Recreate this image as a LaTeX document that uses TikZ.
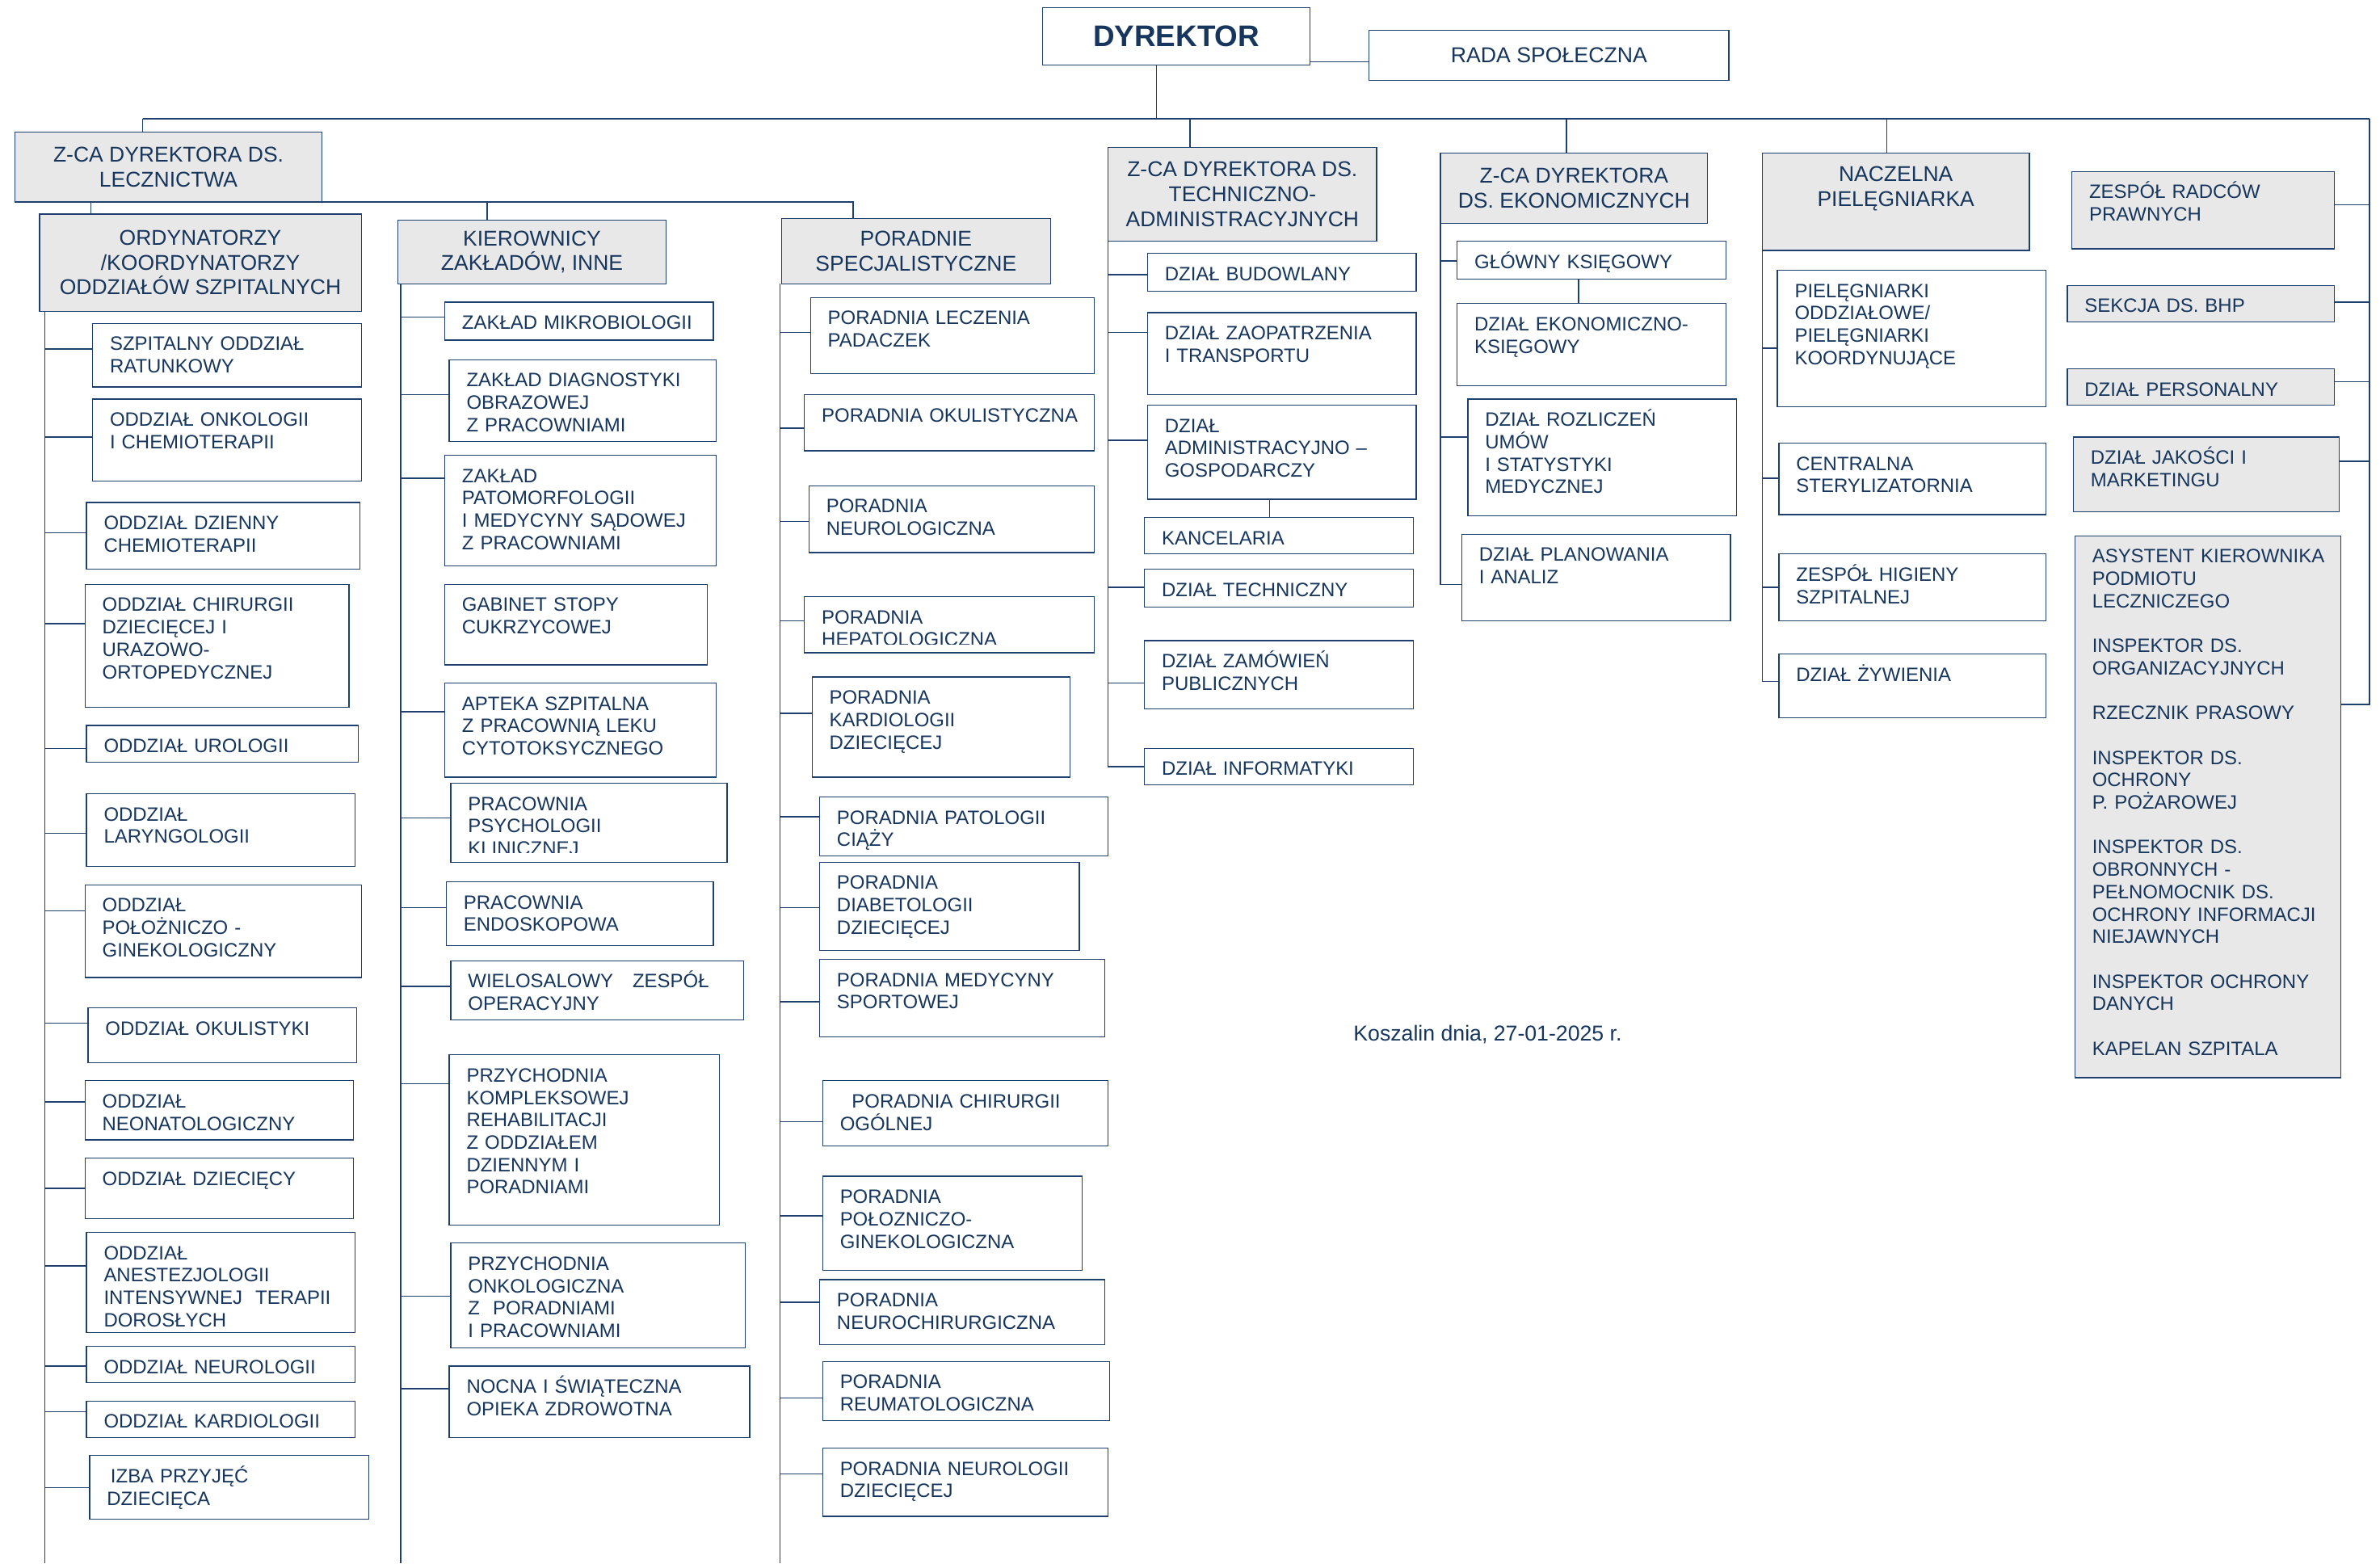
\documentclass[tikz,border=0pt]{standalone}
\usepackage{fontspec}
\setmainfont{Liberation Sans}

\definecolor{ink}{RGB}{23,54,93}
\definecolor{wire}{RGB}{31,63,110}
\definecolor{boxgray}{RGB}{232,232,232}

\tikzset{
  unit/.style={draw=wire, line width=0.7pt, fill=white, anchor=north west, inner sep=0pt, outer sep=0pt},
  unittext/.style={anchor=base west, inner sep=0pt, align=left, text width=#1, text=ink, font=\fontsize{12.75}{14.75}\selectfont},
  chief/.style={unit, fill=boxgray, align=center, text=ink, font=\fontsize{14.1}{16.4}\selectfont},
  link/.style={draw=wire, line width=0.8pt},
  bus/.style={draw=wire, line width=1.1pt},
}

% box with left-set text: [fill]{name}{x1}{y1}{x2}{y2}{text}
\newcommand{\deptbox}[7][white]{%
  \pgfmathsetmacro{\ubw}{#5-#3}\pgfmathsetmacro{\ubh}{#6-#4}%
  \node[unit, fill=#1, minimum width=\ubw pt, minimum height=\ubh pt] (#2) at (#3,#4) {};
  \node[unittext=\ubw pt] (#2-t) at ([shift={(11.2pt,-17.9pt)}]#2.north west) {#7};
}
% same, text cut off at y = #6
\newcommand{\cutbox}[7]{%
  \pgfmathsetmacro{\ubw}{#4-#2}\pgfmathsetmacro{\ubh}{#5-#3}%
  \node[unit, minimum width=\ubw pt, minimum height=\ubh pt] (#1) at (#2,#3) {};
  \begin{scope}
    \clip (#2,#3) rectangle (#4,#6);
    \node[unittext=\ubw pt] (#1-t) at ([shift={(11.2pt,-17.9pt)}]#1.north west) {#7};
  \end{scope}
}
% grey head box with centred text
\newcommand{\headbox}[6]{%
  \pgfmathsetmacro{\ubw}{#4-#2}\pgfmathsetmacro{\ubh}{#5-#3}%
  \node[chief, minimum width=\ubw pt, minimum height=\ubh pt] (#1) at (#2,#3) {#6};
}
% spine -> box west at height y
\newcommand{\hookin}[3]{%
  \coordinate (#2-in) at (#2.west |- 0,#3);
  \draw[link] (#1 |- #2-in) -- (#2-in);
}
% box east -> spine at height y
\newcommand{\hookout}[3]{%
  \coordinate (#2-in) at (#2.east |- 0,#3);
  \draw[link] (#2-in) -- (#1 |- #2-in);
}

\begin{document}
\begin{tikzpicture}[x=1pt, y=-1pt]
  \useasboundingbox (0,0) rectangle (1568,1030);

  % top
  \node[unit, minimum width=176pt, minimum height=38pt, text=ink, font=\bfseries\fontsize{19.6}{22}\selectfont] (dyr) at (687,5) {DYREKTOR};
  \node[unit, minimum width=237pt, minimum height=33pt, text=ink, font=\fontsize{14.2}{16}\selectfont] (rada) at (902,20) {RADA SPOŁECZNA};
  \coordinate (rada-in) at (rada.west |- 0,40.6);
  \draw[link] (dyr.east |- rada-in) -- (rada-in);                 % dyrektor - rada

  \coordinate (bus-w)   at (94,78);
  \coordinate (bus-e)   at (1561,78);
  \coordinate (dyr-ft)  at (762,78);
  \draw[bus]  (bus-w) -- (bus-e);                                   % main bus
  \draw[link] (dyr-ft |- dyr.south) -- (dyr-ft);                    % dyrektor stem

  % deputies
  \headbox{lecz}{10}{87}{212}{133}{Z-CA DYREKTORA DS.\\LECZNICTWA}
  \headbox{tech}{730}{97}{907}{159}{Z-CA DYREKTORA DS.\\TECHNICZNO-\\ADMINISTRACYJNYCH}
  \headbox{ekon}{949}{101}{1125}{147}{Z-CA DYREKTORA\\DS. EKONOMICZNYCH}
  \node[unit, fill=boxgray, minimum width=176pt, minimum height=64pt] (nacz) at (1161,101) {};
  \node[anchor=north, inner sep=0pt, align=center, text=ink, font=\fontsize{14.1}{16.4}\selectfont] (nacz-t) at ([yshift=-8.4pt]nacz.north) {NACZELNA\\PIELĘGNIARKA};

  \coordinate (tech-up) at (784,78);
  \coordinate (ekon-up) at (1032,78);
  \coordinate (nacz-up) at (1243,78);
  \draw[link] (bus-w) -- (bus-w |- lecz.north);
  \draw[link] (tech-up) -- (tech-up |- tech.north);
  \draw[link] (ekon-up) -- (ekon-up |- ekon.north);
  \draw[link] (nacz-up) -- (nacz-up |- nacz.north);

  % medical heads
  \headbox{ord}{26}{141}{238}{205}{ORDYNATORZY\\/KOORDYNATORZY\\ODDZIAŁÓW SZPITALNYCH}
  \headbox{kier}{262}{145}{439}{187}{KIEROWNICY\\ZAKŁADÓW, INNE}
  \headbox{pors}{515}{144}{692}{187}{PORADNIE\\SPECJALISTYCZNE}
  \coordinate (ord-up)  at (60,133);
  \coordinate (kier-up) at (321,133);
  \coordinate (pors-up) at (562,133);
  \draw[link] (lecz.south east) -- (pors-up) -- (pors-up |- pors.north);
  \draw[link] (ord-up) -- (ord-up |- ord.north);
  \draw[link] (kier-up) -- (kier-up |- kier.north);

  % spines
  \coordinate (ord-sp)  at (29.5,205);  \coordinate (ord-ft)  at (29.5,1030);
  \coordinate (kier-sp) at (264,187);   \coordinate (kier-ft) at (264,1030);
  \coordinate (pors-sp) at (514,187);   \coordinate (pors-ft) at (514,1030);
  \draw[link] (ord-sp) -- (ord-ft);
  \draw[link] (kier-sp) -- (kier-ft);
  \draw[link] (pors-sp) -- (pors-ft);

  % ordynatorzy
  \deptbox{o1}{61}{213}{238}{255}{SZPITALNY ODDZIAŁ\\RATUNKOWY}
  \deptbox{o2}{61}{263}{238}{317}{ODDZIAŁ ONKOLOGII\\I CHEMIOTERAPII}
  \deptbox{o3}{57}{331}{237}{375}{ODDZIAŁ DZIENNY\\CHEMIOTERAPII}
  \deptbox{o4}{56}{385}{230}{466}{ODDZIAŁ CHIRURGII\\DZIECIĘCEJ I\\URAZOWO-\\ORTOPEDYCZNEJ}
  \deptbox{o5}{57}{478}{236}{502}{ODDZIAŁ UROLOGII}
  \deptbox{o6}{57}{523}{234}{571}{ODDZIAŁ\\LARYNGOLOGII}
  \deptbox{o7}{56}{583}{238}{644}{ODDZIAŁ\\POŁOŻNICZO -\\GINEKOLOGICZNY}
  \deptbox{o8}{58}{664}{235}{700}{ODDZIAŁ OKULISTYKI}
  \deptbox{o9}{56}{712}{233}{751}{ODDZIAŁ\\NEONATOLOGICZNY}
  \deptbox{o10}{56}{763}{233}{803}{ODDZIAŁ DZIECIĘCY}
  \deptbox{o11}{57}{812}{234}{878}{ODDZIAŁ\\ANESTEZJOLOGII\\INTENSYWNEJ\ \ TERAPII\\DOROSŁYCH}
  \deptbox{o12}{57}{887}{234}{911}{ODDZIAŁ NEUROLOGII}
  \deptbox{o13}{57}{923}{234}{947}{ODDZIAŁ KARDIOLOGII}
  \deptbox{o14}{59}{959}{243}{1001}{\hspace*{2.5pt}IZBA PRZYJĘĆ\\DZIECIĘCA}
  \hookin{ord-sp}{o1}{230}   \hookin{ord-sp}{o2}{288}   \hookin{ord-sp}{o3}{351}
  \hookin{ord-sp}{o4}{411}   \hookin{ord-sp}{o5}{493}   \hookin{ord-sp}{o6}{549}
  \hookin{ord-sp}{o7}{600}   \hookin{ord-sp}{o8}{674}   \hookin{ord-sp}{o9}{726}
  \hookin{ord-sp}{o10}{783}  \hookin{ord-sp}{o11}{834}  \hookin{ord-sp}{o12}{900}
  \hookin{ord-sp}{o13}{930}  \hookin{ord-sp}{o14}{980}

  % kierownicy
  \deptbox{k1}{293}{199}{470}{224}{ZAKŁAD MIKROBIOLOGII}
  \deptbox{k2}{296}{237}{472}{291}{ZAKŁAD DIAGNOSTYKI\\OBRAZOWEJ\\Z PRACOWNIAMI}
  \deptbox{k3}{293}{300}{472}{373}{ZAKŁAD\\PATOMORFOLOGII\\I MEDYCYNY SĄDOWEJ\\Z PRACOWNIAMI}
  \deptbox{k4}{293}{385}{466}{438}{GABINET STOPY\\CUKRZYCOWEJ}
  \deptbox{k5}{293}{450}{472}{512}{APTEKA SZPITALNA\\Z PRACOWNIĄ LEKU\\CYTOTOKSYCZNEGO}
  \cutbox{k6}{297}{516}{479}{568}{562}{PRACOWNIA\\PSYCHOLOGII\\KLINICZNEJ}
  \deptbox{k7}{294}{581}{470}{623}{PRACOWNIA\\ENDOSKOPOWA}
  \deptbox{k8}{297}{633}{490}{672}{WIELOSALOWY\ \ \ ZESPÓŁ\\OPERACYJNY}
  \deptbox{k9}{296}{695}{474}{807}{PRZYCHODNIA\\KOMPLEKSOWEJ\\REHABILITACJI\\Z ODDZIAŁEM\\DZIENNYM I\\PORADNIAMI}
  \deptbox{k10}{297}{819}{491}{888}{PRZYCHODNIA\\ONKOLOGICZNA\\Z\ \ PORADNIAMI\\I PRACOWNIAMI}
  \deptbox{k11}{296}{900}{494}{947}{NOCNA I ŚWIĄTECZNA\\OPIEKA ZDROWOTNA}
  \hookin{kier-sp}{k1}{209}  \hookin{kier-sp}{k2}{260}  \hookin{kier-sp}{k3}{315}
  \hookin{kier-sp}{k5}{469}  \hookin{kier-sp}{k6}{539}  \hookin{kier-sp}{k7}{598}
  \hookin{kier-sp}{k8}{650}  \hookin{kier-sp}{k9}{714}  \hookin{kier-sp}{k10}{854}
  \hookin{kier-sp}{k11}{915}

  % poradnie
  \deptbox{p1}{534}{196}{721}{246}{PORADNIA LECZENIA\\PADACZEK}
  \deptbox{p2}{530}{260}{721}{297}{PORADNIA OKULISTYCZNA}
  \deptbox{p3}{533}{320}{721}{364}{PORADNIA\\NEUROLOGICZNA}
  \cutbox{p4}{530}{393}{721}{430}{424.5}{PORADNIA\\HEPATOLOGICZNA}
  \deptbox{p5}{535}{446}{705}{512}{PORADNIA\\KARDIOLOGII\\DZIECIĘCEJ}
  \deptbox{p6}{540}{525}{730}{564}{PORADNIA PATOLOGII\\CIĄŻY}
  \deptbox{p7}{540}{568}{711}{626}{PORADNIA\\DIABETOLOGII\\DZIECIĘCEJ}
  \deptbox{p8}{540}{632}{728}{683}{PORADNIA MEDYCYNY\\SPORTOWEJ}
  \deptbox{p9}{542}{712}{730}{755}{\hspace*{7.8pt}PORADNIA CHIRURGII\\OGÓLNEJ}
  \deptbox{p10}{542}{775}{713}{837}{PORADNIA\\POŁOZNICZO-\\GINEKOLOGICZNA}
  \deptbox{p11}{540}{843}{728}{886}{PORADNIA\\NEUROCHIRURGICZNA}
  \deptbox{p12}{542}{897}{731}{936}{PORADNIA\\REUMATOLOGICZNA}
  \deptbox{p13}{542}{954}{730}{999}{PORADNIA NEUROLOGII\\DZIECIĘCEJ}
  \hookin{pors-sp}{p1}{219}  \hookin{pors-sp}{p2}{282}  \hookin{pors-sp}{p3}{343.5}
  \hookin{pors-sp}{p4}{409}  \hookin{pors-sp}{p5}{470}  \hookin{pors-sp}{p6}{538}
  \hookin{pors-sp}{p7}{598}  \hookin{pors-sp}{p8}{660}  \hookin{pors-sp}{p9}{739}
  \hookin{pors-sp}{p10}{801} \hookin{pors-sp}{p11}{858} \hookin{pors-sp}{p12}{921}
  \hookin{pors-sp}{p13}{971}

  % techniczno-administracyjne
  \deptbox{t1}{756}{167}{933}{192}{DZIAŁ BUDOWLANY}
  \deptbox{t2}{756}{206}{933}{260}{DZIAŁ ZAOPATRZENIA\\I TRANSPORTU}
  \deptbox{t3}{756}{267}{933}{329}{DZIAŁ\\ADMINISTRACYJNO –\\GOSPODARCZY}
  \deptbox{t4}{754}{341}{931}{365}{KANCELARIA}
  \deptbox{t5}{754}{375}{931}{400}{DZIAŁ TECHNICZNY}
  \deptbox{t6}{754}{422}{931}{467}{DZIAŁ ZAMÓWIEŃ\\PUBLICZNYCH}
  \deptbox{t7}{754}{493}{931}{517}{DZIAŁ INFORMATYKI}
  \coordinate (tech-sp) at (730,159);
  \coordinate (kanc-up) at (836.5,329);
  \draw[link] (tech-sp) |- (t7.west);                               % tech spine
  \hookin{tech-sp}{t1}{181}  \hookin{tech-sp}{t2}{219}  \hookin{tech-sp}{t3}{290}
  \hookin{tech-sp}{t5}{387}  \hookin{tech-sp}{t6}{450}
  \draw[link] (kanc-up) -- (kanc-up |- t4.north);                   % kancelaria

  % ekonomiczne
  \deptbox{e1}{960}{159}{1137}{184}{GŁÓWNY KSIĘGOWY}
  \deptbox{e2}{960}{200}{1137}{254}{DZIAŁ EKONOMICZNO-\\KSIĘGOWY}
  \deptbox{e3}{967}{263}{1144}{340}{DZIAŁ ROZLICZEŃ\\UMÓW\\I STATYSTYKI\\MEDYCZNEJ}
  \deptbox{e4}{963}{352}{1140}{409}{DZIAŁ PLANOWANIA\\I ANALIZ}
  \coordinate (ekon-sp) at (949,147);
  \coordinate (ksieg-up) at (1040,184);
  \coordinate (e4-in) at (e4.west |- 0,385);
  \draw[link] (ekon-sp) |- (e4-in);                                 % ekon spine
  \hookin{ekon-sp}{e1}{172}  \hookin{ekon-sp}{e3}{288}
  \draw[link] (ksieg-up) -- (ksieg-up |- e2.north);                 % ksiegowy

  % pielegniarki
  \deptbox{n1}{1171}{178}{1348}{268}{PIELĘGNIARKI\\ODDZIAŁOWE/\\PIELĘGNIARKI\\KOORDYNUJĄCE}
  \deptbox{n2}{1172}{292}{1348}{339}{CENTRALNA\\STERYLIZATORNIA}
  \deptbox{n3}{1172}{365}{1348}{409}{ZESPÓŁ HIGIENY\\SZPITALNEJ}
  \deptbox{n4}{1172}{431}{1348}{473}{DZIAŁ ŻYWIENIA}
  \coordinate (nacz-sp) at (1161,165);
  \coordinate (n4-in) at (n4.west |- 0,449);
  \draw[link] (nacz-sp) |- (n4-in);                                 % nacz spine
  \hookin{nacz-sp}{n1}{229.5} \hookin{nacz-sp}{n2}{315} \hookin{nacz-sp}{n3}{387}

  % samodzielne stanowiska
  \deptbox[boxgray]{r1}{1365}{113}{1538}{164}{ZESPÓŁ RADCÓW\\PRAWNYCH}
  \deptbox[boxgray]{r2}{1362}{188}{1538}{212}{SEKCJA DS. BHP}
  \deptbox[boxgray]{r3}{1362}{243}{1538}{267}{DZIAŁ PERSONALNY}
  \deptbox[boxgray]{r4}{1366}{288}{1541}{337}{DZIAŁ JAKOŚCI I\\MARKETINGU}
  \deptbox[boxgray]{r5}{1367}{353}{1542}{710}{ASYSTENT KIEROWNIKA\\PODMIOTU\\LECZNICZEGO\\[14.72pt]
    INSPEKTOR DS.\\ORGANIZACYJNYCH\\[14.72pt]
    RZECZNIK PRASOWY\\[14.72pt]
    INSPEKTOR DS.\\OCHRONY\\P. POŻAROWEJ\\[14.72pt]
    INSPEKTOR DS.\\OBRONNYCH -\\PEŁNOMOCNIK DS.\\OCHRONY INFORMACJI\\NIEJAWNYCH\\[14.72pt]
    INSPEKTOR OCHRONY\\DANYCH\\[14.72pt]
    KAPELAN SZPITALA}
  \coordinate (r5-in) at (r5.east |- 0,464);
  \draw[link] (bus-e) -- (bus-e |- r5-in) -- (r5-in);               % right spine
  \hookout{bus-e}{r1}{135}   \hookout{bus-e}{r2}{199}   \hookout{bus-e}{r3}{251.5}
  \hookout{bus-e}{r4}{304}

  \node[anchor=base west, inner sep=0pt, text=ink, font=\fontsize{14.2}{16}\selectfont] (date) at (891.5,685.7) {Koszalin dnia, 27-01-2025 r.};
\end{tikzpicture}
\end{document}
